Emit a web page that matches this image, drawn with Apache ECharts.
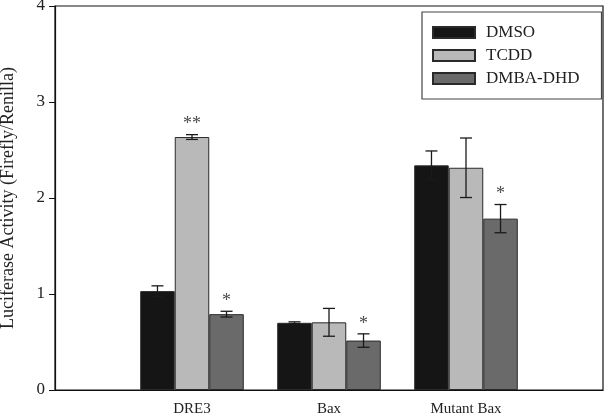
<!DOCTYPE html>
<html><head><meta charset="utf-8">
<script src="https://cdn.jsdelivr.net/npm/echarts@6/dist/echarts.min.js"></script>
<style>html,body{margin:0;padding:0;background:#fff}#c{width:606px;height:417px}</style>
</head><body><div id="c"></div>
<script>
const categories = ['', 'DRE3', 'Bax', 'Mutant Bax', ''];
const seriesNames = ['DMSO', 'TCDD', 'DMBA-DHD'];
const dmso = [null, 1.03, 0.70, 2.34, null];
const tcdd = [null, 2.635, 0.705, 2.315, null];
const dmba = [null, 0.79, 0.515, 1.785, null];
const dmsoErr = [null, 0.055, 0.01, 0.15, null];
const tcddErr = [null, 0.025, 0.145, 0.31, null];
const dmbaErr = [null, 0.03, 0.07, 0.147, null];
const dmsoSig = ['', '', '', '', ''];
const tcddSig = ['', '**', '', '', ''];
const dmbaSig = ['', '*', '*', '*', ''];
const yTicks = [0, 1, 2, 3, 4];

const colors = ['#151515', '#b9b9b9', '#6a6a6a'];
const FONT = "'Liberation Serif', 'Times New Roman', serif";
const BAR_FRAC = 0.252;

const values = [dmso, tcdd, dmba];
const errs = [dmsoErr, tcddErr, dmbaErr];
const sigs = [dmsoSig, tcddSig, dmbaSig];

function errSeries(si) {
  const data = [];
  values[si].forEach((v, i) => { if (v != null) data.push([i, v, errs[si][i], sigs[si][i]]); });
  return {
    type: 'custom', name: seriesNames[si] + ' err', z: 10, silent: true,
    data: data,
    renderItem: function (params, api) {
      const x = api.value(0), v = api.value(1), e = api.value(2);
      const sig = data[params.dataIndex][3];
      const band = api.size([1, 0])[0];
      const off = band * BAR_FRAC * (si - 1);
      const top = api.coord([x, v + e]);
      const bot = api.coord([x, v - e]);
      const cx = top[0] + off;
      const cw = 6;
      const st = { stroke: '#1a1a1a', lineWidth: 1.3 };
      const children = [
        { type: 'line', shape: { x1: cx, y1: top[1], x2: cx, y2: bot[1] }, style: st },
        { type: 'line', shape: { x1: cx - cw, y1: top[1], x2: cx + cw, y2: top[1] }, style: st },
        { type: 'line', shape: { x1: cx - cw, y1: bot[1], x2: cx + cw, y2: bot[1] }, style: st }
      ];
      if (sig) {
        children.push({ type: 'text', style: { text: sig, x: cx, y: top[1] - 1, align: 'center', verticalAlign: 'bottom', fill: '#4a4a4a', font: '18px ' + FONT } });
      }
      return { type: 'group', children: children };
    }
  };
}

const series = seriesNames.map((n, si) => ({
  type: 'bar', name: n, data: values[si], barWidth: (BAR_FRAC * 100) + '%', barGap: '0%',
  itemStyle: { color: colors[si], borderColor: '#2a2a2a', borderWidth: 1 }
}));
[0, 1, 2].forEach(si => series.push(errSeries(si)));

const chart = echarts.init(document.getElementById('c'), null, { renderer: 'canvas' });
chart.setOption({
  animation: false,
  textStyle: { fontFamily: FONT },
  grid: { left: 55, right: 3, top: 6, bottom: 27, show: true, borderColor: '#111', borderWidth: 1.2, containLabel: false, outerBoundsMode: 'none' },
  legend: {
    data: seriesNames, orient: 'vertical', left: 422, top: 12,
    icon: 'rect',
    itemWidth: 42, itemHeight: 11, itemGap: 6,
    padding: [12, 22, 12, 10],
    borderColor: '#444', borderWidth: 1.2, backgroundColor: '#fff',
    textStyle: { fontFamily: FONT, fontSize: 17, color: '#222', padding: [0, 0, 0, 6] }
  },
  xAxis: {
    type: 'category', data: categories, boundaryGap: false,
    axisLine: { lineStyle: { color: '#111', width: 1.2 } },
    axisTick: { show: false },
    axisLabel: { color: '#222', fontSize: 15, fontFamily: FONT, margin: 12 },
    splitLine: { show: false }
  },
  yAxis: {
    type: 'value', min: 0, max: 4, interval: 1,
    name: 'Luciferase Activity (Firefly/Renilla)', nameLocation: 'middle', nameGap: 38,
    nameTextStyle: { fontFamily: FONT, fontSize: 18, color: '#222' },
    axisLine: { show: true, lineStyle: { color: '#111', width: 1.2 } },
    axisTick: { show: true, length: 6, lineStyle: { color: '#111' } },
    axisLabel: { color: '#222', fontSize: 17, fontFamily: FONT, margin: 10, formatter: v => yTicks.includes(v) ? String(v) : '' },
    splitLine: { show: false }
  },
  series: series
});
</script></body></html>
